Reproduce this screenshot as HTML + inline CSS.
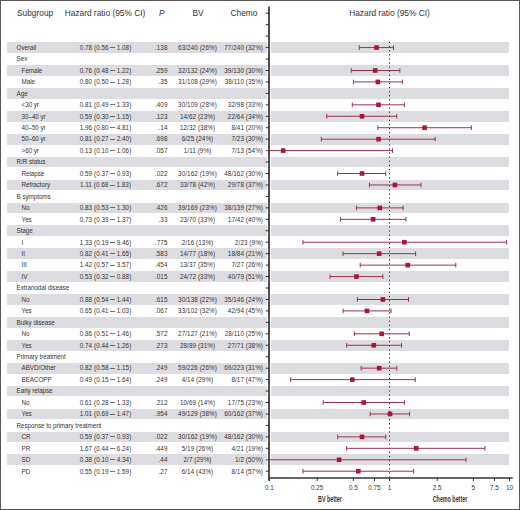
<!DOCTYPE html><html><head><meta charset="utf-8"><style>
*{margin:0;padding:0;box-sizing:border-box}
html,body{width:520px;height:510px;overflow:hidden;background:#fff}
body{position:relative;font-family:"Liberation Sans",sans-serif;color:#363636;}
.frame{position:absolute;left:0;top:0;width:520px;height:510px;border:1px solid #575757}
.s{position:absolute;background:#dcdce1}
.t{position:absolute;font-size:6.4px;line-height:11.45px;white-space:nowrap;height:11.45px;letter-spacing:-0.05px}
.h{position:absolute;font-size:8.35px;line-height:11.45px;white-space:nowrap;height:11.45px}
.r{text-align:right}
.d{display:inline-block;width:4.4px;height:0.6px;background:#363636;vertical-align:2.1px;opacity:.7}
.c{text-align:center}
.hr{font-size:6.3px;letter-spacing:0.06px}
.lb{font-size:6.3px;letter-spacing:-0.06px}
.n{font-size:6.3px;letter-spacing:0.08px}
.r.n{padding-right:0}
.tk{position:absolute;font-size:6.3px;line-height:8px;white-space:nowrap;text-align:center;width:30px}
</style></head><body>

<div class="s" style="left:7px;top:42.25px;width:259.5px;height:10.7px"></div>
<div class="s" style="left:271px;top:42.25px;width:238.3px;height:10.7px"></div>
<div class="s" style="left:7px;top:65.15px;width:259.5px;height:10.7px"></div>
<div class="s" style="left:271px;top:65.15px;width:238.3px;height:10.7px"></div>
<div class="s" style="left:7px;top:88.05px;width:259.5px;height:10.7px"></div>
<div class="s" style="left:271px;top:88.05px;width:238.3px;height:10.7px"></div>
<div class="s" style="left:7px;top:110.95px;width:259.5px;height:10.7px"></div>
<div class="s" style="left:271px;top:110.95px;width:238.3px;height:10.7px"></div>
<div class="s" style="left:7px;top:133.85px;width:259.5px;height:10.7px"></div>
<div class="s" style="left:271px;top:133.85px;width:238.3px;height:10.7px"></div>
<div class="s" style="left:7px;top:156.75px;width:259.5px;height:10.7px"></div>
<div class="s" style="left:271px;top:156.75px;width:238.3px;height:10.7px"></div>
<div class="s" style="left:7px;top:179.65px;width:259.5px;height:10.7px"></div>
<div class="s" style="left:271px;top:179.65px;width:238.3px;height:10.7px"></div>
<div class="s" style="left:7px;top:202.55px;width:259.5px;height:10.7px"></div>
<div class="s" style="left:271px;top:202.55px;width:238.3px;height:10.7px"></div>
<div class="s" style="left:7px;top:225.45px;width:259.5px;height:10.7px"></div>
<div class="s" style="left:271px;top:225.45px;width:238.3px;height:10.7px"></div>
<div class="s" style="left:7px;top:248.35px;width:259.5px;height:10.7px"></div>
<div class="s" style="left:271px;top:248.35px;width:238.3px;height:10.7px"></div>
<div class="s" style="left:7px;top:271.25px;width:259.5px;height:10.7px"></div>
<div class="s" style="left:271px;top:271.25px;width:238.3px;height:10.7px"></div>
<div class="s" style="left:7px;top:294.15px;width:259.5px;height:10.7px"></div>
<div class="s" style="left:271px;top:294.15px;width:238.3px;height:10.7px"></div>
<div class="s" style="left:7px;top:317.05px;width:259.5px;height:10.7px"></div>
<div class="s" style="left:271px;top:317.05px;width:238.3px;height:10.7px"></div>
<div class="s" style="left:7px;top:339.95px;width:259.5px;height:10.7px"></div>
<div class="s" style="left:271px;top:339.95px;width:238.3px;height:10.7px"></div>
<div class="s" style="left:7px;top:362.85px;width:259.5px;height:10.7px"></div>
<div class="s" style="left:271px;top:362.85px;width:238.3px;height:10.7px"></div>
<div class="s" style="left:7px;top:385.75px;width:259.5px;height:10.7px"></div>
<div class="s" style="left:271px;top:385.75px;width:238.3px;height:10.7px"></div>
<div class="s" style="left:7px;top:408.65px;width:259.5px;height:10.7px"></div>
<div class="s" style="left:271px;top:408.65px;width:238.3px;height:10.7px"></div>
<div class="s" style="left:7px;top:431.55px;width:259.5px;height:10.7px"></div>
<div class="s" style="left:271px;top:431.55px;width:238.3px;height:10.7px"></div>
<div class="s" style="left:7px;top:454.45px;width:259.5px;height:10.7px"></div>
<div class="s" style="left:271px;top:454.45px;width:238.3px;height:10.7px"></div>
<div class="h" style="left:17px;top:8.00px">Subgroup</div>
<div class="h c" style="left:55px;width:100px;top:8.00px">Hazard ratio (95% CI)</div>
<div class="h" style="left:159px;top:8.00px;font-style:italic">P</div>
<div class="h c" style="left:168px;width:60px;top:8.00px">BV</div>
<div class="h c" style="left:214px;width:60px;top:8.00px">Chemo</div>
<div class="h c" style="left:339.5px;width:100px;top:8.00px">Hazard ratio (95% CI)</div>
<div class="t lb" style="left:16.6px;top:41.85px">Overall</div>
<div class="t c hr" style="left:55.5px;width:100px;top:41.85px">0.78 (0.56 <span class="d"></span> 1.08)</div>
<div class="t r n" style="left:137.5px;width:30px;top:41.85px">.138</div>
<div class="t c n" style="left:167.5px;width:60px;top:41.85px">63/240 (26%)</div>
<div class="t r n" style="left:213px;width:50px;top:41.85px">77/240 (32%)</div>
<div class="t lb" style="left:16.6px;top:53.30px">Sex</div>
<div class="t lb" style="left:21.6px;top:64.75px">Female</div>
<div class="t c hr" style="left:55.5px;width:100px;top:64.75px">0.76 (0.48 <span class="d"></span> 1.22)</div>
<div class="t r n" style="left:137.5px;width:30px;top:64.75px">.259</div>
<div class="t c n" style="left:167.5px;width:60px;top:64.75px">32/132 (24%)</div>
<div class="t r n" style="left:213px;width:50px;top:64.75px">39/130 (30%)</div>
<div class="t lb" style="left:21.6px;top:76.20px">Male</div>
<div class="t c hr" style="left:55.5px;width:100px;top:76.20px">0.80 (0.50 <span class="d"></span> 1.28)</div>
<div class="t r n" style="left:137.5px;width:30px;top:76.20px">.35</div>
<div class="t c n" style="left:167.5px;width:60px;top:76.20px">31/108 (29%)</div>
<div class="t r n" style="left:213px;width:50px;top:76.20px">38/110 (35%)</div>
<div class="t lb" style="left:16.6px;top:87.65px">Age</div>
<div class="t lb" style="left:21.6px;top:99.10px">&lt;30 yr</div>
<div class="t c hr" style="left:55.5px;width:100px;top:99.10px">0.81 (0.49 <span class="d"></span> 1.33)</div>
<div class="t r n" style="left:137.5px;width:30px;top:99.10px">.409</div>
<div class="t c n" style="left:167.5px;width:60px;top:99.10px">30/109 (28%)</div>
<div class="t r n" style="left:213px;width:50px;top:99.10px">32/98 (33%)</div>
<div class="t lb" style="left:21.6px;top:110.55px">30–40 yr</div>
<div class="t c hr" style="left:55.5px;width:100px;top:110.55px">0.59 (0.30 <span class="d"></span> 1.15)</div>
<div class="t r n" style="left:137.5px;width:30px;top:110.55px">.123</div>
<div class="t c n" style="left:167.5px;width:60px;top:110.55px">14/62 (23%)</div>
<div class="t r n" style="left:213px;width:50px;top:110.55px">22/64 (34%)</div>
<div class="t lb" style="left:21.6px;top:122.00px">40–50 yr</div>
<div class="t c hr" style="left:55.5px;width:100px;top:122.00px">1.96 (0.80 <span class="d"></span> 4.81)</div>
<div class="t r n" style="left:137.5px;width:30px;top:122.00px">.14</div>
<div class="t c n" style="left:167.5px;width:60px;top:122.00px">12/32 (38%)</div>
<div class="t r n" style="left:213px;width:50px;top:122.00px">8/41 (20%)</div>
<div class="t lb" style="left:21.6px;top:133.45px">50–60 yr</div>
<div class="t c hr" style="left:55.5px;width:100px;top:133.45px">0.81 (0.27 <span class="d"></span> 2.40)</div>
<div class="t r n" style="left:137.5px;width:30px;top:133.45px">.698</div>
<div class="t c n" style="left:167.5px;width:60px;top:133.45px">6/25 (24%)</div>
<div class="t r n" style="left:213px;width:50px;top:133.45px">7/23 (30%)</div>
<div class="t lb" style="left:21.6px;top:144.90px">&gt;60 yr</div>
<div class="t c hr" style="left:55.5px;width:100px;top:144.90px">0.13 (0.10 <span class="d"></span> 1.06)</div>
<div class="t r n" style="left:137.5px;width:30px;top:144.90px">.057</div>
<div class="t c n" style="left:167.5px;width:60px;top:144.90px">1/11 (9%)</div>
<div class="t r n" style="left:213px;width:50px;top:144.90px">7/13 (54%)</div>
<div class="t lb" style="left:16.6px;top:156.35px">R/R status</div>
<div class="t lb" style="left:21.6px;top:167.80px">Relapse</div>
<div class="t c hr" style="left:55.5px;width:100px;top:167.80px">0.59 (0.37 <span class="d"></span> 0.93)</div>
<div class="t r n" style="left:137.5px;width:30px;top:167.80px">.022</div>
<div class="t c n" style="left:167.5px;width:60px;top:167.80px">30/162 (19%)</div>
<div class="t r n" style="left:213px;width:50px;top:167.80px">48/162 (30%)</div>
<div class="t lb" style="left:21.6px;top:179.25px">Refractory</div>
<div class="t c hr" style="left:55.5px;width:100px;top:179.25px">1.11 (0.68 <span class="d"></span> 1.83)</div>
<div class="t r n" style="left:137.5px;width:30px;top:179.25px">.672</div>
<div class="t c n" style="left:167.5px;width:60px;top:179.25px">33/78 (42%)</div>
<div class="t r n" style="left:213px;width:50px;top:179.25px">29/78 (37%)</div>
<div class="t lb" style="left:16.6px;top:190.70px">B symptoms</div>
<div class="t lb" style="left:21.6px;top:202.15px">No</div>
<div class="t c hr" style="left:55.5px;width:100px;top:202.15px">0.83 (0.53 <span class="d"></span> 1.30)</div>
<div class="t r n" style="left:137.5px;width:30px;top:202.15px">.426</div>
<div class="t c n" style="left:167.5px;width:60px;top:202.15px">39/169 (23%)</div>
<div class="t r n" style="left:213px;width:50px;top:202.15px">38/139 (27%)</div>
<div class="t lb" style="left:21.6px;top:213.60px">Yes</div>
<div class="t c hr" style="left:55.5px;width:100px;top:213.60px">0.73 (0.39 <span class="d"></span> 1.37)</div>
<div class="t r n" style="left:137.5px;width:30px;top:213.60px">.33</div>
<div class="t c n" style="left:167.5px;width:60px;top:213.60px">23/70 (33%)</div>
<div class="t r n" style="left:213px;width:50px;top:213.60px">17/42 (40%)</div>
<div class="t lb" style="left:16.6px;top:225.05px">Stage</div>
<div class="t lb" style="left:21.6px;top:236.50px">I</div>
<div class="t c hr" style="left:55.5px;width:100px;top:236.50px">1.33 (0.19 <span class="d"></span> 9.46)</div>
<div class="t r n" style="left:137.5px;width:30px;top:236.50px">.775</div>
<div class="t c n" style="left:167.5px;width:60px;top:236.50px">2/16 (13%)</div>
<div class="t r n" style="left:213px;width:50px;top:236.50px">2/23 (9%)</div>
<div class="t lb" style="left:21.6px;top:247.95px">II</div>
<div class="t c hr" style="left:55.5px;width:100px;top:247.95px">0.82 (0.41 <span class="d"></span> 1.65)</div>
<div class="t r n" style="left:137.5px;width:30px;top:247.95px">.583</div>
<div class="t c n" style="left:167.5px;width:60px;top:247.95px">14/77 (18%)</div>
<div class="t r n" style="left:213px;width:50px;top:247.95px">18/84 (21%)</div>
<div class="t lb" style="left:21.6px;top:259.40px">III</div>
<div class="t c hr" style="left:55.5px;width:100px;top:259.40px">1.42 (0.57 <span class="d"></span> 3.57)</div>
<div class="t r n" style="left:137.5px;width:30px;top:259.40px">.454</div>
<div class="t c n" style="left:167.5px;width:60px;top:259.40px">13/37 (35%)</div>
<div class="t r n" style="left:213px;width:50px;top:259.40px">7/27 (26%)</div>
<div class="t lb" style="left:21.6px;top:270.85px">IV</div>
<div class="t c hr" style="left:55.5px;width:100px;top:270.85px">0.53 (0.32 <span class="d"></span> 0.88)</div>
<div class="t r n" style="left:137.5px;width:30px;top:270.85px">.015</div>
<div class="t c n" style="left:167.5px;width:60px;top:270.85px">24/72 (33%)</div>
<div class="t r n" style="left:213px;width:50px;top:270.85px">40/79 (51%)</div>
<div class="t lb" style="left:16.6px;top:282.30px">Extranodal disease</div>
<div class="t lb" style="left:21.6px;top:293.75px">No</div>
<div class="t c hr" style="left:55.5px;width:100px;top:293.75px">0.88 (0.54 <span class="d"></span> 1.44)</div>
<div class="t r n" style="left:137.5px;width:30px;top:293.75px">.615</div>
<div class="t c n" style="left:167.5px;width:60px;top:293.75px">30/138 (22%)</div>
<div class="t r n" style="left:213px;width:50px;top:293.75px">35/146 (24%)</div>
<div class="t lb" style="left:21.6px;top:305.20px">Yes</div>
<div class="t c hr" style="left:55.5px;width:100px;top:305.20px">0.65 (0.41 <span class="d"></span> 1.03)</div>
<div class="t r n" style="left:137.5px;width:30px;top:305.20px">.067</div>
<div class="t c n" style="left:167.5px;width:60px;top:305.20px">33/102 (32%)</div>
<div class="t r n" style="left:213px;width:50px;top:305.20px">42/94 (45%)</div>
<div class="t lb" style="left:16.6px;top:316.65px">Bulky disease</div>
<div class="t lb" style="left:21.6px;top:328.10px">No</div>
<div class="t c hr" style="left:55.5px;width:100px;top:328.10px">0.86 (0.51 <span class="d"></span> 1.46)</div>
<div class="t r n" style="left:137.5px;width:30px;top:328.10px">.572</div>
<div class="t c n" style="left:167.5px;width:60px;top:328.10px">27/127 (21%)</div>
<div class="t r n" style="left:213px;width:50px;top:328.10px">28/110 (25%)</div>
<div class="t lb" style="left:21.6px;top:339.55px">Yes</div>
<div class="t c hr" style="left:55.5px;width:100px;top:339.55px">0.74 (0.44 <span class="d"></span> 1.26)</div>
<div class="t r n" style="left:137.5px;width:30px;top:339.55px">.273</div>
<div class="t c n" style="left:167.5px;width:60px;top:339.55px">28/89 (31%)</div>
<div class="t r n" style="left:213px;width:50px;top:339.55px">27/71 (38%)</div>
<div class="t lb" style="left:16.6px;top:351.00px">Primary treatment</div>
<div class="t lb" style="left:21.6px;top:362.45px">ABVD/Other</div>
<div class="t c hr" style="left:55.5px;width:100px;top:362.45px">0.82 (0.58 <span class="d"></span> 1.15)</div>
<div class="t r n" style="left:137.5px;width:30px;top:362.45px">.249</div>
<div class="t c n" style="left:167.5px;width:60px;top:362.45px">59/226 (26%)</div>
<div class="t r n" style="left:213px;width:50px;top:362.45px">69/223 (31%)</div>
<div class="t lb" style="left:21.6px;top:373.90px">BEACOPP</div>
<div class="t c hr" style="left:55.5px;width:100px;top:373.90px">0.49 (0.15 <span class="d"></span> 1.64)</div>
<div class="t r n" style="left:137.5px;width:30px;top:373.90px">.249</div>
<div class="t c n" style="left:167.5px;width:60px;top:373.90px">4/14 (29%)</div>
<div class="t r n" style="left:213px;width:50px;top:373.90px">8/17 (47%)</div>
<div class="t lb" style="left:16.6px;top:385.35px">Early relapse</div>
<div class="t lb" style="left:21.6px;top:396.80px">No</div>
<div class="t c hr" style="left:55.5px;width:100px;top:396.80px">0.61 (0.28 <span class="d"></span> 1.33)</div>
<div class="t r n" style="left:137.5px;width:30px;top:396.80px">.212</div>
<div class="t c n" style="left:167.5px;width:60px;top:396.80px">10/69 (14%)</div>
<div class="t r n" style="left:213px;width:50px;top:396.80px">17/75 (23%)</div>
<div class="t lb" style="left:21.6px;top:408.25px">Yes</div>
<div class="t c hr" style="left:55.5px;width:100px;top:408.25px">1.01 (0.69 <span class="d"></span> 1.47)</div>
<div class="t r n" style="left:137.5px;width:30px;top:408.25px">.954</div>
<div class="t c n" style="left:167.5px;width:60px;top:408.25px">49/129 (38%)</div>
<div class="t r n" style="left:213px;width:50px;top:408.25px">60/162 (37%)</div>
<div class="t lb" style="left:16.6px;top:419.70px">Response to primary treatment</div>
<div class="t lb" style="left:21.6px;top:431.15px">CR</div>
<div class="t c hr" style="left:55.5px;width:100px;top:431.15px">0.59 (0.37 <span class="d"></span> 0.93)</div>
<div class="t r n" style="left:137.5px;width:30px;top:431.15px">.022</div>
<div class="t c n" style="left:167.5px;width:60px;top:431.15px">30/162 (19%)</div>
<div class="t r n" style="left:213px;width:50px;top:431.15px">48/162 (30%)</div>
<div class="t lb" style="left:21.6px;top:442.60px">PR</div>
<div class="t c hr" style="left:55.5px;width:100px;top:442.60px">1.67 (0.44 <span class="d"></span> 6.24)</div>
<div class="t r n" style="left:137.5px;width:30px;top:442.60px">.449</div>
<div class="t c n" style="left:167.5px;width:60px;top:442.60px">5/19 (26%)</div>
<div class="t r n" style="left:213px;width:50px;top:442.60px">4/21 (19%)</div>
<div class="t lb" style="left:21.6px;top:454.05px">SD</div>
<div class="t c hr" style="left:55.5px;width:100px;top:454.05px">0.38 (0.10 <span class="d"></span> 4.34)</div>
<div class="t r n" style="left:137.5px;width:30px;top:454.05px">.44</div>
<div class="t c n" style="left:167.5px;width:60px;top:454.05px">2/7 (29%)</div>
<div class="t r n" style="left:213px;width:50px;top:454.05px">1/2 (50%)</div>
<div class="t lb" style="left:21.6px;top:465.50px">PD</div>
<div class="t c hr" style="left:55.5px;width:100px;top:465.50px">0.55 (0.19 <span class="d"></span> 1.59)</div>
<div class="t r n" style="left:137.5px;width:30px;top:465.50px">.27</div>
<div class="t c n" style="left:167.5px;width:60px;top:465.50px">6/14 (43%)</div>
<div class="t r n" style="left:213px;width:50px;top:465.50px">8/14 (57%)</div>
<svg style="position:absolute;left:0;top:0" width="520" height="510" viewBox="0 0 520 510">
<line x1="389.5" y1="41.849999999999994" x2="389.5" y2="478.0" stroke="#222" stroke-width="1" stroke-dasharray="1.2 2.9"/>
<line x1="359.28" y1="47.57" x2="393.51" y2="47.57" stroke="#9c3154" stroke-width="1"/>
<line x1="359.28" y1="45.27" x2="359.28" y2="49.87" stroke="#9c3154" stroke-width="1"/>
<line x1="393.51" y1="45.27" x2="393.51" y2="49.87" stroke="#9c3154" stroke-width="1"/>
<rect x="374.25" y="45.27" width="4.6" height="4.6" fill="#ad1238"/>
<line x1="351.25" y1="70.47" x2="399.86" y2="70.47" stroke="#9c3154" stroke-width="1"/>
<line x1="351.25" y1="68.17" x2="351.25" y2="72.77" stroke="#9c3154" stroke-width="1"/>
<line x1="399.86" y1="68.17" x2="399.86" y2="72.77" stroke="#9c3154" stroke-width="1"/>
<rect x="372.90" y="68.17" width="4.6" height="4.6" fill="#ad1238"/>
<line x1="353.38" y1="81.92" x2="402.37" y2="81.92" stroke="#9c3154" stroke-width="1"/>
<line x1="353.38" y1="79.62" x2="353.38" y2="84.22" stroke="#9c3154" stroke-width="1"/>
<line x1="402.37" y1="79.62" x2="402.37" y2="84.22" stroke="#9c3154" stroke-width="1"/>
<rect x="375.57" y="79.62" width="4.6" height="4.6" fill="#ad1238"/>
<line x1="352.32" y1="104.82" x2="404.36" y2="104.82" stroke="#9c3154" stroke-width="1"/>
<line x1="352.32" y1="102.52" x2="352.32" y2="107.12" stroke="#9c3154" stroke-width="1"/>
<line x1="404.36" y1="102.52" x2="404.36" y2="107.12" stroke="#9c3154" stroke-width="1"/>
<rect x="376.22" y="102.52" width="4.6" height="4.6" fill="#ad1238"/>
<line x1="326.75" y1="116.27" x2="396.78" y2="116.27" stroke="#9c3154" stroke-width="1"/>
<line x1="326.75" y1="113.97" x2="326.75" y2="118.57" stroke="#9c3154" stroke-width="1"/>
<line x1="396.78" y1="113.97" x2="396.78" y2="118.57" stroke="#9c3154" stroke-width="1"/>
<rect x="359.70" y="113.97" width="4.6" height="4.6" fill="#ad1238"/>
<line x1="377.87" y1="127.72" x2="471.36" y2="127.72" stroke="#9c3154" stroke-width="1"/>
<line x1="377.87" y1="125.42" x2="377.87" y2="130.03" stroke="#9c3154" stroke-width="1"/>
<line x1="471.36" y1="125.42" x2="471.36" y2="130.03" stroke="#9c3154" stroke-width="1"/>
<rect x="422.27" y="125.42" width="4.6" height="4.6" fill="#ad1238"/>
<line x1="321.26" y1="139.17" x2="435.13" y2="139.17" stroke="#9c3154" stroke-width="1"/>
<line x1="321.26" y1="136.87" x2="321.26" y2="141.47" stroke="#9c3154" stroke-width="1"/>
<line x1="435.13" y1="136.87" x2="435.13" y2="141.47" stroke="#9c3154" stroke-width="1"/>
<rect x="376.22" y="136.87" width="4.6" height="4.6" fill="#ad1238"/>
<line x1="265.90" y1="150.62" x2="392.54" y2="150.62" stroke="#9c3154" stroke-width="1"/>
<line x1="392.54" y1="148.32" x2="392.54" y2="152.93" stroke="#9c3154" stroke-width="1"/>
<rect x="280.87" y="148.32" width="4.6" height="4.6" fill="#ad1238"/>
<line x1="337.68" y1="173.52" x2="385.72" y2="173.52" stroke="#9c3154" stroke-width="1"/>
<line x1="337.68" y1="171.22" x2="337.68" y2="175.82" stroke="#9c3154" stroke-width="1"/>
<line x1="385.72" y1="171.22" x2="385.72" y2="175.82" stroke="#9c3154" stroke-width="1"/>
<rect x="359.70" y="171.22" width="4.6" height="4.6" fill="#ad1238"/>
<line x1="369.40" y1="184.97" x2="420.99" y2="184.97" stroke="#9c3154" stroke-width="1"/>
<line x1="369.40" y1="182.67" x2="369.40" y2="187.28" stroke="#9c3154" stroke-width="1"/>
<line x1="420.99" y1="182.67" x2="420.99" y2="187.28" stroke="#9c3154" stroke-width="1"/>
<rect x="392.64" y="182.67" width="4.6" height="4.6" fill="#ad1238"/>
<line x1="356.41" y1="207.88" x2="403.17" y2="207.88" stroke="#9c3154" stroke-width="1"/>
<line x1="356.41" y1="205.57" x2="356.41" y2="210.18" stroke="#9c3154" stroke-width="1"/>
<line x1="403.17" y1="205.57" x2="403.17" y2="210.18" stroke="#9c3154" stroke-width="1"/>
<rect x="377.49" y="205.57" width="4.6" height="4.6" fill="#ad1238"/>
<line x1="340.43" y1="219.32" x2="405.91" y2="219.32" stroke="#9c3154" stroke-width="1"/>
<line x1="340.43" y1="217.02" x2="340.43" y2="221.62" stroke="#9c3154" stroke-width="1"/>
<line x1="405.91" y1="217.02" x2="405.91" y2="221.62" stroke="#9c3154" stroke-width="1"/>
<rect x="370.80" y="217.02" width="4.6" height="4.6" fill="#ad1238"/>
<line x1="302.95" y1="242.22" x2="506.61" y2="242.22" stroke="#9c3154" stroke-width="1"/>
<line x1="302.95" y1="239.92" x2="302.95" y2="244.53" stroke="#9c3154" stroke-width="1"/>
<line x1="506.61" y1="239.92" x2="506.61" y2="244.53" stroke="#9c3154" stroke-width="1"/>
<rect x="402.06" y="239.92" width="4.6" height="4.6" fill="#ad1238"/>
<line x1="343.03" y1="253.67" x2="415.60" y2="253.67" stroke="#9c3154" stroke-width="1"/>
<line x1="343.03" y1="251.37" x2="343.03" y2="255.97" stroke="#9c3154" stroke-width="1"/>
<line x1="415.60" y1="251.37" x2="415.60" y2="255.97" stroke="#9c3154" stroke-width="1"/>
<rect x="376.86" y="251.37" width="4.6" height="4.6" fill="#ad1238"/>
<line x1="360.20" y1="265.12" x2="455.82" y2="265.12" stroke="#9c3154" stroke-width="1"/>
<line x1="360.20" y1="262.82" x2="360.20" y2="267.43" stroke="#9c3154" stroke-width="1"/>
<line x1="455.82" y1="262.82" x2="455.82" y2="267.43" stroke="#9c3154" stroke-width="1"/>
<rect x="405.47" y="262.82" width="4.6" height="4.6" fill="#ad1238"/>
<line x1="330.12" y1="276.57" x2="382.84" y2="276.57" stroke="#9c3154" stroke-width="1"/>
<line x1="330.12" y1="274.27" x2="330.12" y2="278.88" stroke="#9c3154" stroke-width="1"/>
<line x1="382.84" y1="274.27" x2="382.84" y2="278.88" stroke="#9c3154" stroke-width="1"/>
<rect x="354.11" y="274.27" width="4.6" height="4.6" fill="#ad1238"/>
<line x1="357.39" y1="299.47" x2="408.50" y2="299.47" stroke="#9c3154" stroke-width="1"/>
<line x1="357.39" y1="297.17" x2="357.39" y2="301.77" stroke="#9c3154" stroke-width="1"/>
<line x1="408.50" y1="297.17" x2="408.50" y2="301.77" stroke="#9c3154" stroke-width="1"/>
<rect x="380.54" y="297.17" width="4.6" height="4.6" fill="#ad1238"/>
<line x1="343.03" y1="310.92" x2="391.04" y2="310.92" stroke="#9c3154" stroke-width="1"/>
<line x1="343.03" y1="308.62" x2="343.03" y2="313.22" stroke="#9c3154" stroke-width="1"/>
<line x1="391.04" y1="308.62" x2="391.04" y2="313.22" stroke="#9c3154" stroke-width="1"/>
<rect x="364.75" y="308.62" width="4.6" height="4.6" fill="#ad1238"/>
<line x1="354.41" y1="333.82" x2="409.22" y2="333.82" stroke="#9c3154" stroke-width="1"/>
<line x1="354.41" y1="331.52" x2="354.41" y2="336.12" stroke="#9c3154" stroke-width="1"/>
<line x1="409.22" y1="331.52" x2="409.22" y2="336.12" stroke="#9c3154" stroke-width="1"/>
<rect x="379.34" y="331.52" width="4.6" height="4.6" fill="#ad1238"/>
<line x1="346.71" y1="345.27" x2="401.54" y2="345.27" stroke="#9c3154" stroke-width="1"/>
<line x1="346.71" y1="342.97" x2="346.71" y2="347.57" stroke="#9c3154" stroke-width="1"/>
<line x1="401.54" y1="342.97" x2="401.54" y2="347.57" stroke="#9c3154" stroke-width="1"/>
<rect x="371.51" y="342.97" width="4.6" height="4.6" fill="#ad1238"/>
<line x1="361.11" y1="368.17" x2="396.78" y2="368.17" stroke="#9c3154" stroke-width="1"/>
<line x1="361.11" y1="365.87" x2="361.11" y2="370.47" stroke="#9c3154" stroke-width="1"/>
<line x1="396.78" y1="365.87" x2="396.78" y2="370.47" stroke="#9c3154" stroke-width="1"/>
<rect x="376.86" y="365.87" width="4.6" height="4.6" fill="#ad1238"/>
<line x1="290.63" y1="379.62" x2="415.28" y2="379.62" stroke="#9c3154" stroke-width="1"/>
<line x1="290.63" y1="377.32" x2="290.63" y2="381.93" stroke="#9c3154" stroke-width="1"/>
<line x1="415.28" y1="377.32" x2="415.28" y2="381.93" stroke="#9c3154" stroke-width="1"/>
<rect x="350.02" y="377.32" width="4.6" height="4.6" fill="#ad1238"/>
<line x1="323.16" y1="402.52" x2="404.36" y2="402.52" stroke="#9c3154" stroke-width="1"/>
<line x1="323.16" y1="400.22" x2="323.16" y2="404.82" stroke="#9c3154" stroke-width="1"/>
<line x1="404.36" y1="400.22" x2="404.36" y2="404.82" stroke="#9c3154" stroke-width="1"/>
<rect x="361.44" y="400.22" width="4.6" height="4.6" fill="#ad1238"/>
<line x1="370.16" y1="413.97" x2="409.58" y2="413.97" stroke="#9c3154" stroke-width="1"/>
<line x1="370.16" y1="411.67" x2="370.16" y2="416.27" stroke="#9c3154" stroke-width="1"/>
<line x1="409.58" y1="411.67" x2="409.58" y2="416.27" stroke="#9c3154" stroke-width="1"/>
<rect x="387.72" y="411.67" width="4.6" height="4.6" fill="#ad1238"/>
<line x1="337.68" y1="436.88" x2="385.72" y2="436.88" stroke="#9c3154" stroke-width="1"/>
<line x1="337.68" y1="434.57" x2="337.68" y2="439.18" stroke="#9c3154" stroke-width="1"/>
<line x1="385.72" y1="434.57" x2="385.72" y2="439.18" stroke="#9c3154" stroke-width="1"/>
<rect x="359.70" y="434.57" width="4.6" height="4.6" fill="#ad1238"/>
<line x1="346.71" y1="448.32" x2="484.92" y2="448.32" stroke="#9c3154" stroke-width="1"/>
<line x1="346.71" y1="446.02" x2="346.71" y2="450.62" stroke="#9c3154" stroke-width="1"/>
<line x1="484.92" y1="446.02" x2="484.92" y2="450.62" stroke="#9c3154" stroke-width="1"/>
<rect x="413.93" y="446.02" width="4.6" height="4.6" fill="#ad1238"/>
<line x1="265.90" y1="459.77" x2="466.00" y2="459.77" stroke="#9c3154" stroke-width="1"/>
<line x1="466.00" y1="457.47" x2="466.00" y2="462.07" stroke="#9c3154" stroke-width="1"/>
<rect x="336.77" y="457.47" width="4.6" height="4.6" fill="#ad1238"/>
<line x1="302.95" y1="471.22" x2="413.67" y2="471.22" stroke="#9c3154" stroke-width="1"/>
<line x1="302.95" y1="468.92" x2="302.95" y2="473.52" stroke="#9c3154" stroke-width="1"/>
<line x1="413.67" y1="468.92" x2="413.67" y2="473.52" stroke="#9c3154" stroke-width="1"/>
<rect x="356.04" y="468.92" width="4.6" height="4.6" fill="#ad1238"/>
<line x1="269.0" y1="6.5" x2="269.0" y2="480.5" stroke="#333" stroke-width="1.7"/>
<line x1="268.7" y1="478.0" x2="512.7" y2="478.0" stroke="#333" stroke-width="1.6"/>
<line x1="265.7" y1="13.22" x2="269.5" y2="13.22" stroke="#333" stroke-width="1"/>
<line x1="265.7" y1="24.67" x2="269.5" y2="24.67" stroke="#333" stroke-width="1"/>
<line x1="265.7" y1="36.12" x2="269.5" y2="36.12" stroke="#333" stroke-width="1"/>
<line x1="265.7" y1="47.57" x2="269.5" y2="47.57" stroke="#333" stroke-width="1"/>
<line x1="265.7" y1="59.02" x2="269.5" y2="59.02" stroke="#333" stroke-width="1"/>
<line x1="265.7" y1="70.47" x2="269.5" y2="70.47" stroke="#333" stroke-width="1"/>
<line x1="265.7" y1="81.92" x2="269.5" y2="81.92" stroke="#333" stroke-width="1"/>
<line x1="265.7" y1="93.38" x2="269.5" y2="93.38" stroke="#333" stroke-width="1"/>
<line x1="265.7" y1="104.82" x2="269.5" y2="104.82" stroke="#333" stroke-width="1"/>
<line x1="265.7" y1="116.27" x2="269.5" y2="116.27" stroke="#333" stroke-width="1"/>
<line x1="265.7" y1="127.72" x2="269.5" y2="127.72" stroke="#333" stroke-width="1"/>
<line x1="265.7" y1="139.17" x2="269.5" y2="139.17" stroke="#333" stroke-width="1"/>
<line x1="265.7" y1="162.07" x2="269.5" y2="162.07" stroke="#333" stroke-width="1"/>
<line x1="265.7" y1="173.52" x2="269.5" y2="173.52" stroke="#333" stroke-width="1"/>
<line x1="265.7" y1="184.97" x2="269.5" y2="184.97" stroke="#333" stroke-width="1"/>
<line x1="265.7" y1="196.42" x2="269.5" y2="196.42" stroke="#333" stroke-width="1"/>
<line x1="265.7" y1="207.88" x2="269.5" y2="207.88" stroke="#333" stroke-width="1"/>
<line x1="265.7" y1="219.32" x2="269.5" y2="219.32" stroke="#333" stroke-width="1"/>
<line x1="265.7" y1="230.77" x2="269.5" y2="230.77" stroke="#333" stroke-width="1"/>
<line x1="265.7" y1="242.22" x2="269.5" y2="242.22" stroke="#333" stroke-width="1"/>
<line x1="265.7" y1="253.67" x2="269.5" y2="253.67" stroke="#333" stroke-width="1"/>
<line x1="265.7" y1="265.12" x2="269.5" y2="265.12" stroke="#333" stroke-width="1"/>
<line x1="265.7" y1="276.57" x2="269.5" y2="276.57" stroke="#333" stroke-width="1"/>
<line x1="265.7" y1="288.02" x2="269.5" y2="288.02" stroke="#333" stroke-width="1"/>
<line x1="265.7" y1="299.47" x2="269.5" y2="299.47" stroke="#333" stroke-width="1"/>
<line x1="265.7" y1="310.92" x2="269.5" y2="310.92" stroke="#333" stroke-width="1"/>
<line x1="265.7" y1="322.38" x2="269.5" y2="322.38" stroke="#333" stroke-width="1"/>
<line x1="265.7" y1="333.82" x2="269.5" y2="333.82" stroke="#333" stroke-width="1"/>
<line x1="265.7" y1="345.27" x2="269.5" y2="345.27" stroke="#333" stroke-width="1"/>
<line x1="265.7" y1="356.72" x2="269.5" y2="356.72" stroke="#333" stroke-width="1"/>
<line x1="265.7" y1="368.17" x2="269.5" y2="368.17" stroke="#333" stroke-width="1"/>
<line x1="265.7" y1="379.62" x2="269.5" y2="379.62" stroke="#333" stroke-width="1"/>
<line x1="265.7" y1="391.07" x2="269.5" y2="391.07" stroke="#333" stroke-width="1"/>
<line x1="265.7" y1="402.52" x2="269.5" y2="402.52" stroke="#333" stroke-width="1"/>
<line x1="265.7" y1="413.97" x2="269.5" y2="413.97" stroke="#333" stroke-width="1"/>
<line x1="265.7" y1="425.42" x2="269.5" y2="425.42" stroke="#333" stroke-width="1"/>
<line x1="265.7" y1="436.88" x2="269.5" y2="436.88" stroke="#333" stroke-width="1"/>
<line x1="265.7" y1="448.32" x2="269.5" y2="448.32" stroke="#333" stroke-width="1"/>
<line x1="265.7" y1="471.22" x2="269.5" y2="471.22" stroke="#333" stroke-width="1"/>
<line x1="269.50" y1="478.0" x2="269.50" y2="481.0" stroke="#333" stroke-width="1"/>
<line x1="317.25" y1="478.0" x2="317.25" y2="481.0" stroke="#333" stroke-width="1"/>
<line x1="353.38" y1="478.0" x2="353.38" y2="481.0" stroke="#333" stroke-width="1"/>
<line x1="374.51" y1="478.0" x2="374.51" y2="481.0" stroke="#333" stroke-width="1"/>
<line x1="389.50" y1="478.0" x2="389.50" y2="481.0" stroke="#333" stroke-width="1"/>
<line x1="437.25" y1="478.0" x2="437.25" y2="481.0" stroke="#333" stroke-width="1"/>
<line x1="473.38" y1="478.0" x2="473.38" y2="481.0" stroke="#333" stroke-width="1"/>
<line x1="494.51" y1="478.0" x2="494.51" y2="481.0" stroke="#333" stroke-width="1"/>
<line x1="509.50" y1="478.0" x2="509.50" y2="481.0" stroke="#333" stroke-width="1"/>
</svg>
<div class="tk" style="left:254.50px;top:483.5px">0.1</div>
<div class="tk" style="left:302.25px;top:483.5px">0.25</div>
<div class="tk" style="left:338.38px;top:483.5px">0.5</div>
<div class="tk" style="left:359.51px;top:483.5px">0.75</div>
<div class="tk" style="left:374.50px;top:483.5px">1</div>
<div class="tk" style="left:422.25px;top:483.5px">2.5</div>
<div class="tk" style="left:458.38px;top:483.5px">5</div>
<div class="tk" style="left:479.51px;top:483.5px">7.5</div>
<div class="tk" style="left:494.50px;top:483.5px">10</div>
<div class="tk" style="left:309.5px;width:40px;top:494.9px;font-size:8.3px;font-weight:bold;transform:scaleX(0.645)">BV better</div>
<div class="tk" style="left:419.5px;width:60px;top:494.9px;font-size:8.3px;font-weight:bold;transform:scaleX(0.645)">Chemo better</div>
<div class="frame"></div>
</body></html>
